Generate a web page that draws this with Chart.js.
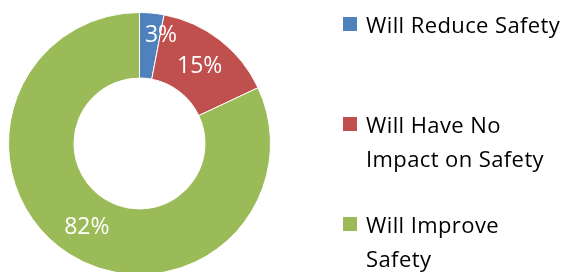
<!DOCTYPE html>
<html>
<head>
<meta charset="utf-8">
<script src="https://cdn.jsdelivr.net/npm/chart.js@4.4.1/dist/chart.umd.min.js"></script>
<style>
  html, body { margin: 0; padding: 0; background: #fff; overflow: hidden; }
  #wrap { position: relative; width: 567px; height: 272px; overflow: hidden; }
  #pie { position: absolute; left: 0; top: 0; }
  #legend { position: absolute; left: 343px; top: 0; font-family: 'Open Sans', sans-serif; font-size: 22px; color: #000; }
  #legend .item { position: absolute; left: 0; width: 224px; line-height: 34px; letter-spacing: 0.4px; }
  #legend .box { position: absolute; left: 0; top: 10px; width: 14px; height: 14px; }
  #legend .txt { position: absolute; left: 23px; top: 0; white-space: nowrap; }
</style>
</head>
<body>
<div id="wrap">
  <canvas id="pie" width="567" height="280"></canvas>
  <div id="legend"></div>
</div>
<script>
/* ═══ safety doughnut ═══ */
var labels = [['Will Reduce Safety'], ['Will Have No', 'Impact on Safety'], ['Will Improve', 'Safety']];
var values = [3, 15, 82];
var colors = ['#4f81bd', '#c0504d', '#9bbb59'];

(function(){
  // percentage labels in the middle of each ring segment
  var pctLabels = {
    id: 'pctLabels',
    afterDatasetsDraw: function(chart) {
      var ctx = chart.ctx;
      var ds = chart.data.datasets[0];
      var total = ds.data.reduce(function(a, b){ return a + b; }, 0);
      var meta = chart.getDatasetMeta(0);
      ctx.save();
      ctx.fillStyle = '#fff';
      ctx.font = '23px "Open Sans"';
      ctx.textAlign = 'center';
      ctx.textBaseline = 'middle';
      meta.data.forEach(function(arc, i){
        var p = arc.getProps(['x', 'y', 'startAngle', 'endAngle', 'innerRadius', 'outerRadius'], true);
        var a = (p.startAngle + p.endAngle) / 2;
        var r = (p.innerRadius + p.outerRadius) / 2;
        // thin slices: push the label a bit outward, like the original
        if (ds.data[i] / total < 0.05) { r = p.outerRadius * 0.85; a += 0.1; }
        var pct = Math.round(ds.data[i] / total * 100) + '%';
        ctx.fillText(pct, p.x + Math.cos(a) * r, p.y + Math.sin(a) * r + 1);
      });
      ctx.restore();
    }
  };

  new Chart(document.getElementById('pie'), {
    type: 'doughnut',
    data: {
      labels: labels,
      datasets: [{
        data: values,
        backgroundColor: colors,
        borderColor: '#ffffff',
        borderWidth: 1,
        hoverOffset: 0
      }]
    },
    options: {
      responsive: false,
      animation: false,
      cutout: '50%',
      layout: { padding: { left: 8, top: 12, right: 296, bottom: 5 } },
      plugins: {
        legend: { display: false },
        tooltip: { enabled: false }
      }
    },
    plugins: [pctLabels]
  });

  // legend on the right, one block per category
  var legend = document.getElementById('legend');
  labels.forEach(function(lines, i){
    var item = document.createElement('div');
    item.className = 'item';
    item.style.top = (7 + i * 100) + 'px';
    var box = document.createElement('div');
    box.className = 'box';
    box.style.background = colors[i];
    var txt = document.createElement('div');
    txt.className = 'txt';
    txt.innerHTML = lines.join('<br>');
    item.appendChild(box);
    item.appendChild(txt);
    legend.appendChild(item);
  });
})();
</script>
</body>
</html>
